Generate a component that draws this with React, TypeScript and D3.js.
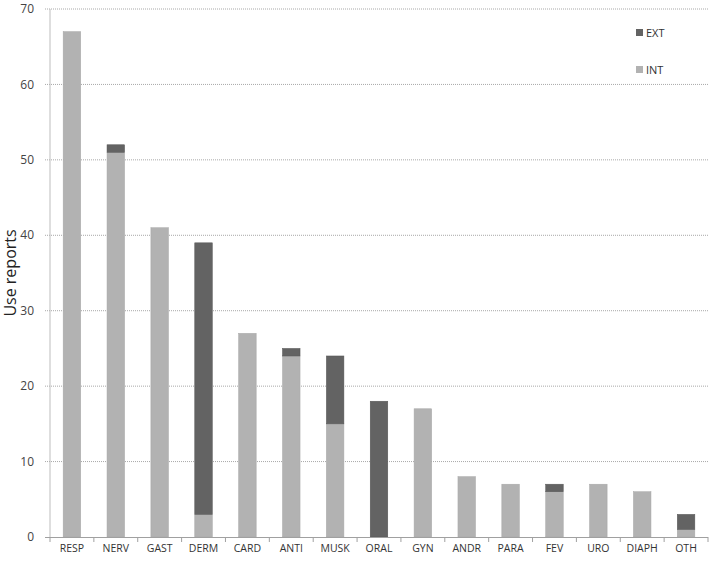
import React from "react";
import * as d3 from "d3";

const categories = ["RESP", "NERV", "GAST", "DERM", "CARD", "ANTI", "MUSK", "ORAL", "GYN", "ANDR", "PARA", "FEV", "URO", "DIAPH", "OTH"];
const intValues = [67, 51, 41, 3, 27, 24, 15, 0, 17, 8, 7, 6, 7, 6, 1];
const extValues = [0, 1, 0, 36, 0, 1, 9, 18, 0, 0, 0, 1, 0, 0, 2];
const yTicks = [0, 10, 20, 30, 40, 50, 60, 70];
const seriesNames = ["EXT", "INT"];

const W = 709, H = 561;
const left = 50, right = 708, top = 9, bottom = 537;
const INT_COLOR = "#b2b2b2";
const EXT_COLOR = "#636363";
const FONT = "'Open Sans', 'DejaVu Sans', sans-serif";

export default function App() {
  const x = d3.scaleBand<string>().domain(categories).range([left, right]).paddingInner(0.6).paddingOuter(0.3);
  const xb = d3.scaleBand<string>().domain(categories).range([left, right]);
  const y = d3.scaleLinear().domain([0, 70]).range([bottom, top]);

  return (
    <svg width={W} height={H} style={{ position: "absolute", left: 0, top: 0, background: "#fff" }}>
      {yTicks.map((t) => (
        <g key={t}>
          {t > 0 && (
            <line x1={45} x2={right} y1={y(t)} y2={y(t)} stroke="#a8a8a8" strokeWidth={1} strokeDasharray="1,1" />
          )}
          <text x={34} y={y(t)} dy="0.35em" textAnchor="end" fontFamily={FONT} fontSize={12} fill="#444">{t}</text>
        </g>
      ))}
      {categories.map((c, i) => {
        const bx = x(c)!;
        const bw = x.bandwidth();
        const yi = y(intValues[i]);
        const ye = y(intValues[i] + extValues[i]);
        return (
          <g key={c}>
            {intValues[i] > 0 && (
              <rect x={bx} width={bw} y={yi} height={bottom - yi} fill={INT_COLOR} stroke="#a6a6a6" strokeWidth={0.5} />
            )}
            {extValues[i] > 0 && (
              <rect x={bx} width={bw} y={ye} height={yi - ye} fill={EXT_COLOR} stroke="#555" strokeWidth={0.5} />
            )}
            <text x={bx + bw / 2} y={552} textAnchor="middle" fontFamily={FONT} fontSize={10.5} fill="#333">{c}</text>
          </g>
        );
      })}
      <line x1={left} x2={left} y1={top} y2={bottom} stroke="#bdbdbd" strokeWidth={1} />
      <line x1={45} x2={right} y1={bottom + 0.5} y2={bottom + 0.5} stroke="#a0a0a0" strokeWidth={1} />
      {categories.map((c) => (
        <line key={"t" + c} x1={xb(c)!} x2={xb(c)!} y1={bottom} y2={bottom + 5} stroke="#a0a0a0" strokeWidth={1} />
      ))}
      <line x1={right} x2={right} y1={bottom} y2={bottom + 5} stroke="#a0a0a0" strokeWidth={1} />
      <text transform={`translate(16,${(top + bottom) / 2}) rotate(-90)`} textAnchor="middle" fontFamily={FONT} fontSize={16} fill="#222">Use reports</text>
      {seriesNames.map((s, i) => (
        <g key={s} transform={`translate(636,${29 + i * 37})`}>
          <rect x={0} y={0} width={7} height={7} fill={s === "EXT" ? EXT_COLOR : INT_COLOR} />
          <text x={10} y={4} dy="0.35em" fontFamily={FONT} fontSize={11} fill="#333">{s}</text>
        </g>
      ))}
    </svg>
  );
}
